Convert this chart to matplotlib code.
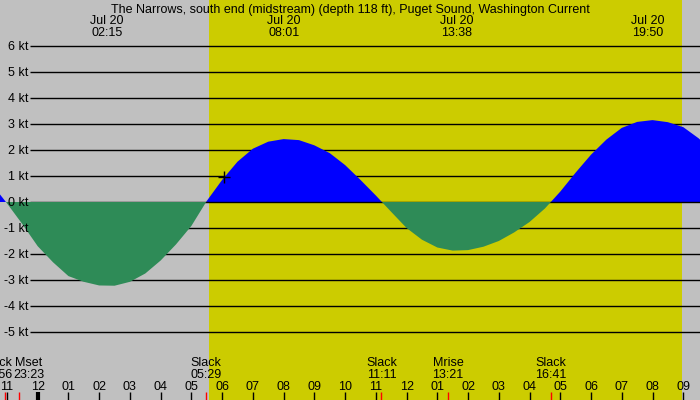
import matplotlib
matplotlib.use("Agg")
import matplotlib.pyplot as plt
import matplotlib.transforms as mtransforms

# ---------------- data ----------------
title = "The Narrows, south end (midstream) (depth 118 ft), Puget Sound, Washington Current"

# hours since midnight Jul 20 (negative = Jul 19)
times_h = [-1.5, -1.0, -0.5, 0.0, 0.5, 1.0, 1.5, 2.0, 2.5, 3.0, 3.5, 4.0, 4.5,
           5.0, 5.5, 6.0, 6.5, 7.0, 7.5, 8.0, 8.5, 9.0, 9.5, 10.0, 10.5, 11.0,
           11.5, 12.0, 12.5, 13.0, 13.5, 14.0, 14.5, 15.0, 15.5, 16.0, 16.5,
           17.0, 17.5, 18.0, 18.5, 19.0, 19.5, 20.0, 20.5, 21.0, 21.5, 22.0]
current_kt = [0.70, -0.05, -0.85, -1.70, -2.32, -2.85, -3.07, -3.21, -3.22, -3.07,
              -2.75, -2.25, -1.63, -0.92, 0.04, 0.85, 1.55, 2.05, 2.32, 2.42,
              2.38, 2.18, 1.88, 1.42, 0.85, 0.25, -0.38, -1.00, -1.45, -1.75,
              -1.87, -1.85, -1.72, -1.50, -1.17, -0.77, -0.25, 0.40, 1.13, 1.82,
              2.40, 2.85, 3.08, 3.15, 3.07, 2.88, 2.45, 1.90]

# max current events (top labels)
peak_times = ["02:15", "08:01", "13:38", "19:50"]
peak_dates = ["Jul 20", "Jul 20", "Jul 20", "Jul 20"]

# bottom events
event_names = ["Slack", "Mset", "Slack", "Slack", "Mrise", "Slack"]
event_times = ["22:56", "23:23", "05:29", "11:11", "13:21", "16:41"]
event_day_offset = [-1, -1, 0, 0, 0, 0]

sunrise = "05:34"
sunset = "20:58"

y_ticks = [-5, -4, -3, -2, -1, 0, 1, 2, 3, 4, 5, 6]
hour_ticks = list(range(-1, 22))
marker_time = "06:04"
marker_value = 0.98

# ---------------- helpers ----------------
def t2h(s, day=0):
    hh, mm = s.split(":")
    return int(hh) + int(mm) / 60.0 + 24 * day

PX0, PXH = 37.7, 30.74      # pixel x of midnight, pixels per hour
PY0, PYK = 202.0, 26.0      # pixel y of 0 kt, pixels per knot
W, H = 700, 400
TOFF = 1.5                  # text vertical nudge (px)

def px2h(px):
    return (px - PX0) / PXH

def py2v(py):
    return (PY0 - py) / PYK

BG = "#c0c0c0"
DAY = "#cccc00"
EBB = "#2e8b57"
FLOOD = "#0000ff"
FONT = ["Liberation Sans", "DejaVu Sans"]
FS = 9

fig = plt.figure(figsize=(7, 4), dpi=100)
fig.patch.set_facecolor(BG)
ax = fig.add_axes([0, 0, 1, 1])
ax.set_facecolor(BG)
ax.set_xlim(px2h(0), px2h(W))
ax.set_ylim(py2v(H), py2v(0))
ax.axis("off")

trans_y = mtransforms.blended_transform_factory(ax.transData, ax.transAxes)
def fy(py):
    return 1 - py / H

# day band
ax.axvspan(t2h(sunrise), t2h(sunset), color=DAY, zorder=1, lw=0)

# horizontal grid lines
for v in y_ticks:
    ax.plot([px2h(30), px2h(W)], [v, v], color="black", lw=1.0, zorder=3 if v == 0 else 2,
            solid_capstyle="butt")
    ax.text(px2h(28), fy(PY0 - PYK * v + TOFF), f"{v} kt", transform=trans_y,
            ha="right", va="center", fontsize=FS, family=FONT, zorder=6)

# current fills
ax.fill_between(times_h, current_kt, 0, where=[c <= 0 for c in current_kt],
                interpolate=True, color=EBB, lw=0, zorder=4)
ax.fill_between(times_h, current_kt, 0, where=[c >= 0 for c in current_kt],
                interpolate=True, color=FLOOD, lw=0, zorder=2.5)

# marker
ax.plot([t2h(marker_time)], [marker_value], marker="+", color="black",
        markersize=9, mew=1.0, zorder=5)

# title
ax.text(px2h(350), fy(8 + TOFF), title, transform=trans_y, ha="center", va="center",
        fontsize=FS, family=FONT, zorder=6)

# top peak labels
for d, t in zip(peak_dates, peak_times):
    h = t2h(t)
    ax.text(h, fy(20 + TOFF), d, transform=trans_y, ha="center", va="center",
            fontsize=FS, family=FONT, zorder=6)
    ax.text(h, fy(32 + TOFF), t, transform=trans_y, ha="center", va="center",
            fontsize=FS, family=FONT, zorder=6)

# bottom hour ticks and labels
for hh in hour_ticks:
    lab = f"{(hh - 1) % 12 + 1:02d}"
    ax.text(hh, fy(386 + TOFF), lab, transform=trans_y, ha="center", va="center",
            fontsize=FS, family=FONT, zorder=6)
    lw = 3.0 if hh % 24 == 0 else 1.0
    ax.plot([hh, hh], [fy(392), fy(400)], transform=trans_y, color="black",
            lw=lw, zorder=6, solid_capstyle="butt")

# bottom events
for i, (n, t, dd) in enumerate(zip(event_names, event_times, event_day_offset)):
    h = t2h(t, dd)
    ax.plot([h, h], [fy(392), fy(400)], transform=trans_y, color="red",
            lw=1.0, zorder=7, solid_capstyle="butt")
    if i == 0:
        xl, ha = px2h(12.5), "right"
    elif i == 1:
        xl, ha = px2h(29), "center"
    else:
        xl, ha = h, "center"
    ax.text(xl, fy(362 + TOFF), n, transform=trans_y, ha=ha, va="center",
            fontsize=FS, family=FONT, zorder=6)
    ax.text(xl, fy(374 + TOFF), t, transform=trans_y, ha=ha, va="center",
            fontsize=FS, family=FONT, zorder=6)

fig.savefig("out.png", dpi=100, facecolor=BG)
